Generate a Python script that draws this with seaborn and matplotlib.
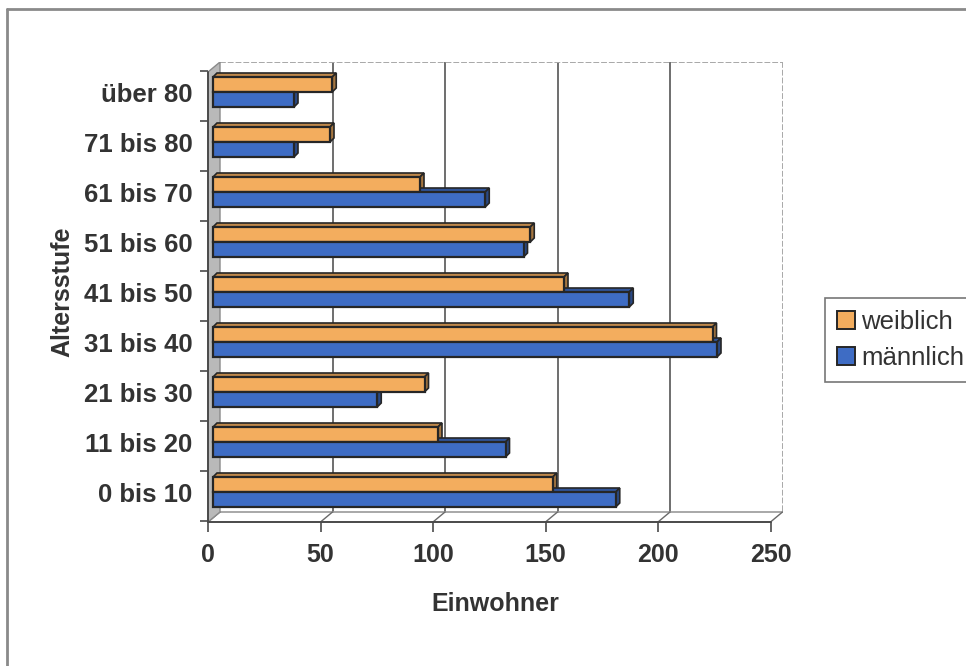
import numpy as np
import pandas as pd
import matplotlib
matplotlib.use("Agg")
import matplotlib.pyplot as plt
import seaborn as sns
from matplotlib.transforms import ScaledTranslation
from matplotlib.patches import Polygon, Patch
from matplotlib.lines import Line2D
from matplotlib.colors import to_rgb

# ---- data -----------------------------------------------------------------
altersstufen = ["0 bis 10", "11 bis 20", "21 bis 30", "31 bis 40", "41 bis 50",
                "51 bis 60", "61 bis 70", "71 bis 80", "über 80"]
weiblich = [151, 100, 94, 222, 156, 141, 92, 52, 53]
maennlich = [179, 130, 73, 224, 185, 138, 121, 36, 36]
x_ticks = [0, 50, 100, 150, 200, 250]
serien = ["weiblich", "männlich"]
farben = {"weiblich": "#F3AD5E", "männlich": "#3E6CC4"}

df = pd.DataFrame({
    "Altersstufe": altersstufen * 2,
    "Geschlecht": ["weiblich"] * len(altersstufen) + ["männlich"] * len(altersstufen),
    "Einwohner": weiblich + maennlich,
})

sns.set_style("white")
plt.rcParams["font.family"] = ["Liberation Sans", "DejaVu Sans"]

W, H = 966, 666
fig = plt.figure(figsize=(W / 100, H / 100), dpi=100)
fig.patch.set_facecolor("white")


def fx(px):
    return px / W


def fy(py):
    return 1 - py / H


# axes box: front floor edge at the bottom, back wall top at the top
ax_left, ax_right, ax_top, ax_bottom = 208, 783, 62, 522
ax = fig.add_axes([fx(ax_left), fy(ax_bottom), (ax_right - ax_left) / W, (ax_bottom - ax_top) / H])
ax.set_facecolor("none")

order = altersstufen[::-1]
sns.barplot(data=df, y="Altersstufe", x="Einwohner", hue="Geschlecht",
            order=order, hue_order=serien, palette=farben, orient="h",
            width=0.6, saturation=1, edgecolor="#262626", linewidth=1.6,
            legend=False, ax=ax, zorder=3)

px_per_unit = (770.5 - ax_left) / 250.0
ax.set_xlim(0, (ax_right - ax_left) / px_per_unit)
ax.set_ylim(8.6, -0.6)
for s in ax.spines.values():
    s.set_visible(False)
fig.canvas.draw()


def offset(dxp, dyp):
    """Convert a pixel offset (right, up) into data units."""
    p0 = ax.transData.transform((0, 0))
    p1 = ax.transData.inverted().transform(p0 + np.array([dxp, dyp]))
    return p1[0], p1[1]


bx, by = offset(12, 10)      # depth of the chart box
dx, dy = offset(4, 4)        # depth of each bar
bar_shift = ax.transData + ScaledTranslation(0.05, 0, fig.dpi_scale_trans)

# ---- 3D bars: front faces from seaborn, top and side faces from their geometry
for p in list(ax.patches):
    p.set_transform(bar_shift)
    x0, w = p.get_x(), p.get_width()
    y0, h = p.get_y(), p.get_height()
    yt, yb = min(y0, y0 + h), max(y0, y0 + h)
    x1 = x0 + w
    base = np.array(to_rgb(p.get_facecolor()))
    top = Polygon([(x0, yt), (x1, yt), (x1 + dx, yt + dy), (x0 + dx, yt + dy)],
                  closed=True, facecolor=base * 0.78, edgecolor="#262626",
                  linewidth=1.2, transform=bar_shift, zorder=2)
    side = Polygon([(x1, yt), (x1, yb), (x1 + dx, yb + dy), (x1 + dx, yt + dy)],
                   closed=True, facecolor=base * 0.68, edgecolor="#262626",
                   linewidth=1.2, transform=bar_shift, zorder=2)
    ax.add_patch(top)
    ax.add_patch(side)

# ---- walls and floor ------------------------------------------------------
y_front_top = -0.6 - by
y_floor = 8.6
xmax = 250

left_wall = Polygon([(0, y_front_top), (0, y_floor), (bx, y_floor + by), (bx, y_front_top + by)],
                    closed=True, facecolor="#b9b9b9", edgecolor="#8a8a8a", linewidth=1.0, zorder=1)
ax.add_patch(left_wall)

# back wall gridlines
for v in x_ticks[1:-1]:
    ax.plot([v + bx, v + bx], [-0.6, y_floor + by], color="#555555", lw=1.2, zorder=0.8)
# back wall outline (top and right edges)
ax.plot([bx, xmax + bx], [-0.6, -0.6], color="#a8a8a8", lw=1.4, ls=(0, (3, 1)), zorder=0.8)
ax.plot([xmax + bx, xmax + bx], [-0.6, y_floor + by], color="#a8a8a8", lw=1.4, ls=(0, (3, 1)), zorder=0.8)

# floor edges and perspective tick lines
ax.plot([bx, xmax + bx], [y_floor + by, y_floor + by], color="#9a9a9a", lw=1.2, zorder=0.8)
ax.plot([0, xmax], [y_floor, y_floor], color="#4a4a4a", lw=1.4, zorder=4, clip_on=False)
for v in x_ticks:
    ax.plot([v, v + bx], [y_floor, y_floor + by], color="#6a6a6a", lw=1.0, zorder=0.9)
# front edge of the left wall (category axis)
ax.plot([0, 0], [y_front_top, y_floor], color="#4a4a4a", lw=1.4, zorder=4, clip_on=False)

# ---- ticks and labels -----------------------------------------------------
ax.set_xticks(x_ticks)
ax.set_xticklabels([str(t) for t in x_ticks], fontsize=18, fontweight="bold", color="#333333")
ax.tick_params(axis="x", bottom=True, length=7, width=1.2, color="#4a4a4a",
               direction="out", pad=8)
ax.set_yticks(range(len(order)))
ax.set_yticklabels(order, fontsize=18.5, fontweight="bold", color="#333333")
ax.set_yticks(np.arange(len(order) + 1) - 0.43, minor=True)
ax.tick_params(axis="y", which="major", left=False, length=0, pad=11)
ax.tick_params(axis="y", which="minor", left=True, length=6, width=1.2,
               color="#4a4a4a", direction="out")
ax.set_xlabel("")
ax.set_ylabel("")
ax.grid(False)

fig.text(fx(495), fy(604), "Einwohner", ha="center", va="center",
         fontsize=18, fontweight="bold", color="#333333")
fig.text(fx(62), fy(292), "Altersstufe", ha="center", va="center", rotation=90,
         fontsize=18, fontweight="bold", color="#333333")

# ---- legend ---------------------------------------------------------------
handles = [Patch(facecolor=farben[s], edgecolor="#262626", linewidth=1.4, label=s) for s in serien]
leg = fig.legend(handles=handles, loc="upper left", bbox_to_anchor=(fx(825), fy(298)),
                 frameon=True, fancybox=False, edgecolor="#555555", fontsize=18.5,
                 handlelength=0.7, handleheight=0.7, handletextpad=0.25,
                 labelspacing=0.5, borderpad=0.45, borderaxespad=0)
leg.get_frame().set_linewidth(1.2)
for t in leg.get_texts():
    t.set_color("#333333")

# ---- page frame -----------------------------------------------------------
fig.add_artist(Line2D([fx(7), fx(7)], [fy(9), fy(700)], color="#8a8a8a", lw=2,
                      transform=fig.transFigure))
fig.add_artist(Line2D([fx(7), fx(1000)], [fy(9), fy(9)], color="#8a8a8a", lw=2,
                      transform=fig.transFigure))

fig.savefig("out.png", dpi=100, facecolor="white")
